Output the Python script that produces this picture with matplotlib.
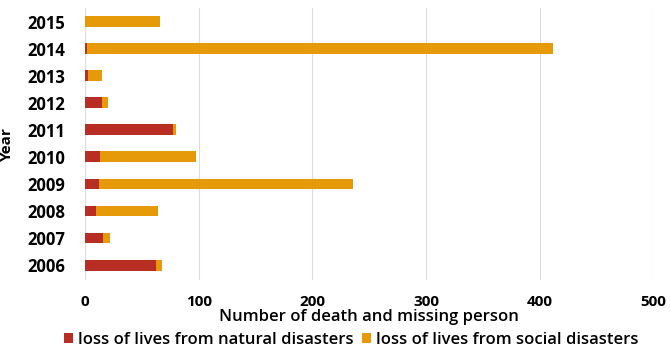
import numpy as np
import matplotlib
matplotlib.use("Agg")
import matplotlib.pyplot as plt

years = ["2006", "2007", "2008", "2009", "2010", "2011", "2012", "2013", "2014", "2015"]
natural = [62, 16, 10, 12, 13, 77, 15, 3, 2, 0]
social = [6, 6, 54, 224, 85, 3, 5, 12, 410, 66]

RED = "#b82e24"
ORANGE = "#e69a0a"

plt.rcParams["font.family"] = ["Open Sans", "DejaVu Sans"]

fig = plt.figure(figsize=(6.7, 3.5), dpi=100)
ax = fig.add_axes([0.127, 0.2, 0.848, 0.777])

y = np.arange(len(years))
ax.barh(y, natural, height=0.4, color=RED, label="loss of lives from natural disasters")
ax.barh(y, social, left=natural, height=0.4, color=ORANGE, label="loss of lives from social disasters")

ax.set_xlim(0, 500)
ax.set_ylim(-0.55, 9.5)
ax.set_yticks(y)
ax.set_yticklabels(years, fontsize=12, fontweight="bold")
ax.set_xticks(range(0, 501, 100))
ax.tick_params(axis="x", labelsize=11, pad=11, length=0)
ax.tick_params(axis="y", length=0, pad=14)
for lbl in ax.get_xticklabels():
    lbl.set_fontweight("bold")

ax.grid(axis="x", color="#dddddd", linewidth=0.8)
ax.set_axisbelow(True)
for s in ax.spines.values():
    s.set_visible(False)
ax.axvline(0, color="#cccccc", linewidth=0.8, zorder=0)

ax.set_xlabel("Number of death and missing person", fontsize=12, fontweight="semibold", labelpad=0)
ax.set_ylabel("Year", fontsize=11, fontweight="bold", labelpad=10)

fig.legend(loc="center", bbox_to_anchor=(0.524, 0.03), ncol=2, frameon=False,
           handlelength=0.55, handleheight=0.55, handletextpad=0.3,
           columnspacing=0.5, borderpad=0.2, prop={"weight": "semibold", "size": 12})

fig.savefig("out.png", dpi=100)
